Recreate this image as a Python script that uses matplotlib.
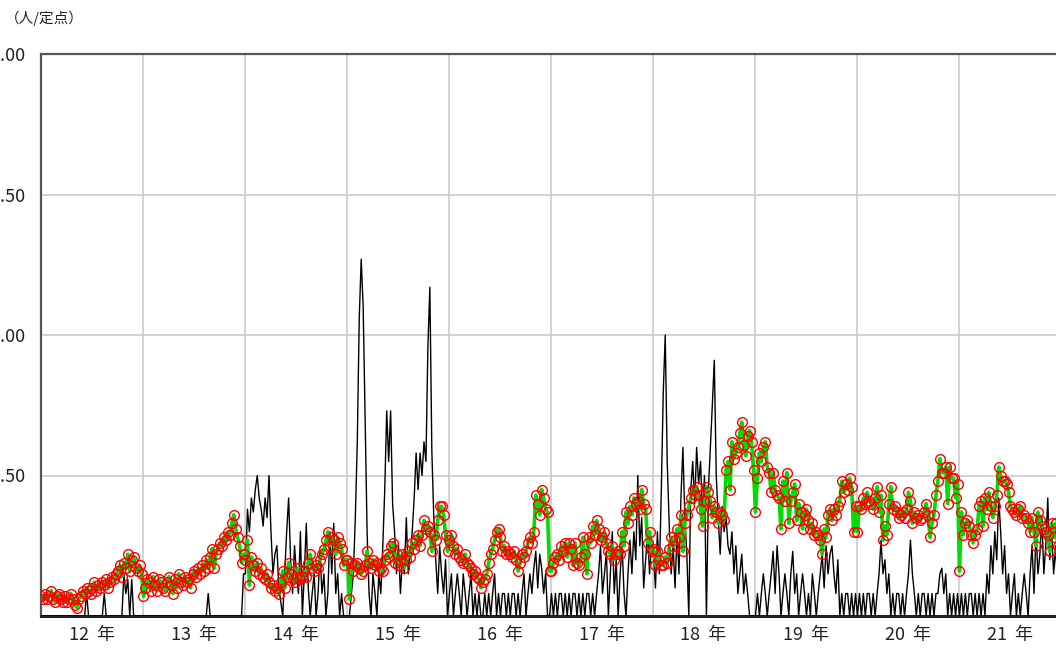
import numpy as np
import matplotlib.pyplot as plt

plt.rcParams['font.family'] = ['Noto Sans CJK JP', 'DejaVu Sans']

# 年ラベル (週 52 本ずつ)
years = ['12', '13', '14', '15', '16', '17', '18', '19', '20', '21']

# 赤丸 + 緑線 の系列 (人/定点)
avg_12 = [0.07, 0.06, 0.08, 0.06, 0.07, 0.09, 0.06, 0.05, 0.07, 0.08,
          0.06, 0.05, 0.07, 0.05, 0.06, 0.08, 0.06, 0.04, 0.03, 0.06,
          0.07, 0.09, 0.08, 0.10, 0.09, 0.08, 0.10, 0.12, 0.09, 0.11,
          0.10, 0.12, 0.11, 0.13, 0.10, 0.12, 0.14, 0.13, 0.15, 0.16,
          0.18, 0.14, 0.19, 0.17, 0.22, 0.16, 0.20, 0.21, 0.17, 0.16, 0.18, 0.15]
avg_13 = [0.07, 0.10, 0.13, 0.12, 0.09, 0.14, 0.11, 0.09, 0.13, 0.12,
          0.10, 0.09, 0.12, 0.14, 0.11, 0.08, 0.13, 0.10, 0.15, 0.12,
          0.11, 0.14, 0.12, 0.13, 0.10, 0.15, 0.16, 0.14, 0.17, 0.15,
          0.18, 0.16, 0.20, 0.17, 0.21, 0.24, 0.17, 0.22, 0.24, 0.26,
          0.25, 0.28, 0.27, 0.30, 0.29, 0.33, 0.36, 0.31, 0.28, 0.25, 0.19, 0.22]
avg_14 = [0.20, 0.27, 0.11, 0.21, 0.18, 0.16, 0.19, 0.15, 0.17, 0.14,
          0.13, 0.15, 0.12, 0.10, 0.11, 0.09, 0.10, 0.08, 0.12, 0.16,
          0.10, 0.14, 0.19, 0.15, 0.13, 0.12, 0.14, 0.17, 0.13, 0.14,
          0.16, 0.14, 0.19, 0.22, 0.17, 0.16, 0.18, 0.17, 0.20, 0.22,
          0.24, 0.27, 0.30, 0.25, 0.28, 0.27, 0.22, 0.28, 0.26, 0.24, 0.18, 0.20]
avg_15 = [0.20, 0.06, 0.19, 0.16, 0.18, 0.19, 0.17, 0.15, 0.16, 0.18,
          0.23, 0.19, 0.17, 0.20, 0.18, 0.19, 0.16, 0.17, 0.16, 0.20,
          0.22, 0.21, 0.25, 0.26, 0.19, 0.22, 0.18, 0.20, 0.22, 0.17,
          0.20, 0.23, 0.21, 0.26, 0.24, 0.27, 0.29, 0.25, 0.29, 0.34,
          0.31, 0.32, 0.30, 0.23, 0.29, 0.27, 0.34, 0.39, 0.39, 0.36, 0.29, 0.23]
avg_16 = [0.27, 0.29, 0.25, 0.22, 0.24, 0.21, 0.20, 0.19, 0.22, 0.19,
          0.18, 0.17, 0.15, 0.16, 0.14, 0.13, 0.10, 0.12, 0.13, 0.15,
          0.19, 0.22, 0.24, 0.27, 0.30, 0.31, 0.28, 0.23, 0.25, 0.22,
          0.23, 0.22, 0.21, 0.23, 0.20, 0.16, 0.19, 0.22, 0.21, 0.23,
          0.26, 0.28, 0.26, 0.30, 0.43, 0.40, 0.36, 0.45, 0.42, 0.38, 0.37, 0.16]
avg_17 = [0.16, 0.19, 0.21, 0.22, 0.20, 0.25, 0.23, 0.26, 0.21, 0.26,
          0.24, 0.18, 0.26, 0.19, 0.18, 0.21, 0.28, 0.22, 0.15, 0.28,
          0.26, 0.32, 0.29, 0.34, 0.31, 0.27, 0.28, 0.30, 0.26, 0.23,
          0.22, 0.25, 0.20, 0.22, 0.23, 0.22, 0.30, 0.25, 0.37, 0.33,
          0.39, 0.36, 0.42, 0.40, 0.41, 0.38, 0.45, 0.40, 0.38, 0.26, 0.30, 0.23]
avg_18 = [0.24, 0.18, 0.23, 0.20, 0.18, 0.18, 0.21, 0.19, 0.24, 0.28,
          0.25, 0.27, 0.31, 0.28, 0.36, 0.23, 0.33, 0.36, 0.39, 0.42,
          0.45, 0.43, 0.46, 0.43, 0.38, 0.32, 0.41, 0.46, 0.44, 0.41,
          0.35, 0.39, 0.37, 0.33, 0.37, 0.36, 0.34, 0.52, 0.55, 0.45,
          0.62, 0.56, 0.58, 0.60, 0.65, 0.69, 0.61, 0.57, 0.64, 0.66, 0.62, 0.52]
avg_19 = [0.37, 0.49, 0.58, 0.55, 0.60, 0.62, 0.53, 0.51, 0.44, 0.51,
          0.45, 0.43, 0.42, 0.31, 0.48, 0.41, 0.51, 0.33, 0.41, 0.44,
          0.47, 0.34, 0.40, 0.37, 0.31, 0.36, 0.38, 0.34, 0.31, 0.33,
          0.29, 0.30, 0.29, 0.27, 0.22, 0.31, 0.28, 0.36, 0.38, 0.34,
          0.38, 0.36, 0.39, 0.41, 0.48, 0.44, 0.47, 0.45, 0.49, 0.46, 0.30, 0.39]
avg_20 = [0.30, 0.39, 0.38, 0.42, 0.40, 0.44, 0.41, 0.40, 0.38, 0.42,
          0.46, 0.37, 0.43, 0.27, 0.32, 0.29, 0.40, 0.46, 0.38, 0.39,
          0.37, 0.35, 0.36, 0.37, 0.35, 0.38, 0.44, 0.41, 0.33, 0.37,
          0.35, 0.36, 0.34, 0.35, 0.37, 0.40, 0.36, 0.28, 0.33, 0.36,
          0.43, 0.48, 0.56, 0.51, 0.51, 0.53, 0.40, 0.53, 0.49, 0.49, 0.42, 0.47]
avg_21 = [0.16, 0.37, 0.29, 0.33, 0.34, 0.32, 0.29, 0.26, 0.29, 0.31,
          0.39, 0.41, 0.32, 0.42, 0.38, 0.44, 0.39, 0.35, 0.39, 0.43,
          0.53, 0.50, 0.48, 0.48, 0.47, 0.44, 0.39, 0.38, 0.37, 0.36,
          0.38, 0.39, 0.35, 0.36, 0.35, 0.33, 0.30, 0.35, 0.30, 0.25,
          0.37, 0.34, 0.32, 0.31, 0.30, 0.29, 0.23, 0.33, 0.28, 0.33, 0.25, 0.30]

# 黒線の系列 (人/定点)
cur_12 = [0, 0, 0, 0, 0, 0, 0, 0, 0, 0,
          0, 0, 0, 0, 0, 0, 0, 0, 0, 0,
          0, 0, 0, 0.08, 0, 0, 0, 0, 0, 0,
          0, 0, 0.08, 0, 0, 0, 0, 0, 0, 0,
          0, 0, 0.15, 0.08, 0.13, 0, 0.13, 0, 0, 0, 0, 0]
cur_13 = [0, 0, 0, 0, 0, 0, 0, 0, 0, 0,
          0, 0, 0, 0, 0, 0, 0, 0, 0, 0,
          0, 0, 0, 0, 0, 0, 0, 0, 0, 0,
          0, 0, 0, 0.08, 0, 0, 0, 0, 0, 0,
          0, 0, 0, 0, 0, 0, 0, 0, 0, 0, 0, 0.15]
cur_14 = [0.15, 0.38, 0.30, 0.42, 0.37, 0.45, 0.50, 0.42, 0.38, 0.32,
          0.42, 0.35, 0.50, 0.30, 0.15, 0.22, 0.25, 0.10, 0.05, 0,
          0.15, 0.30, 0.42, 0.20, 0.08, 0.25, 0.15, 0.08, 0.30, 0,
          0.15, 0.33, 0.10, 0, 0.08, 0.15, 0, 0.08, 0.23, 0.08,
          0.15, 0, 0.08, 0.30, 0.15, 0.33, 0.08, 0.15, 0, 0.08, 0, 0]
cur_15 = [0, 0, 0.08, 0.15, 0.35, 0.62, 1.06, 1.27, 1.10, 0.70,
          0.30, 0.08, 0, 0.15, 0.08, 0, 0.15, 0.08, 0.25, 0.45,
          0.73, 0.55, 0.73, 0.40, 0.30, 0.15, 0.25, 0.08, 0.20, 0.15,
          0.35, 0.15, 0.23, 0.30, 0.42, 0.58, 0.45, 0.58, 0.50, 0.62,
          0.55, 0.96, 1.17, 0.59, 0.35, 0.20, 0.08, 0.25, 0.15, 0.08, 0.20, 0]
cur_16 = [0.08, 0.15, 0, 0.08, 0.15, 0.08, 0, 0.15, 0.08, 0,
          0.08, 0.15, 0, 0.08, 0, 0.08, 0, 0, 0.08, 0,
          0.08, 0, 0.08, 0.15, 0, 0.08, 0, 0.08, 0.08, 0,
          0.08, 0, 0.08, 0.08, 0, 0.08, 0, 0.08, 0.15, 0,
          0.08, 0.15, 0.08, 0.17, 0.23, 0.10, 0.22, 0.17, 0.08, 0.15, 0, 0]
cur_17 = [0.08, 0, 0.08, 0, 0.08, 0.08, 0, 0.08, 0, 0.08,
          0, 0.08, 0.08, 0, 0.08, 0, 0.08, 0, 0.08, 0.08,
          0, 0.08, 0, 0.08, 0.15, 0.25, 0.08, 0.15, 0.23, 0,
          0.15, 0.30, 0.08, 0.20, 0, 0.15, 0.25, 0.08, 0, 0.15,
          0.27, 0.15, 0.30, 0.20, 0.50, 0.25, 0.35, 0.10, 0.20, 0.30, 0.15, 0.25]
cur_18 = [0.22, 0.10, 0.30, 0.15, 0.45, 0.80, 1.00, 0.55, 0.33, 0.15,
          0.25, 0.10, 0.30, 0.15, 0.42, 0.60, 0.35, 0.22, 0, 0.45,
          0.55, 0.40, 0.60, 0.47, 0.55, 0.35, 0.50, 0, 0.45, 0.60,
          0.75, 0.91, 0.50, 0.35, 0.22, 0.39, 0.30, 0.35, 0.25, 0.22,
          0.30, 0.15, 0.25, 0.08, 0.15, 0.22, 0.08, 0.15, 0.08, 0, 0, 0]
cur_19 = [0, 0.08, 0, 0.08, 0.15, 0.08, 0, 0.08, 0.15, 0.23,
          0.08, 0.25, 0.15, 0, 0.08, 0.15, 0.08, 0, 0.15, 0.23,
          0.08, 0.15, 0, 0.08, 0.15, 0.08, 0, 0.08, 0, 0.15,
          0.08, 0, 0.08, 0.15, 0.22, 0.10, 0.25, 0.15, 0.22, 0.25,
          0.15, 0.08, 0.20, 0, 0.08, 0, 0.08, 0.08, 0, 0.08, 0, 0.08]
cur_20 = [0, 0.08, 0, 0.08, 0, 0.08, 0.08, 0, 0.08, 0,
          0.08, 0.15, 0.27, 0.15, 0.20, 0.08, 0.15, 0, 0.08, 0,
          0.08, 0.08, 0, 0.08, 0, 0.08, 0.15, 0.27, 0.15, 0.08,
          0, 0.08, 0, 0.08, 0.08, 0, 0.08, 0, 0.08, 0,
          0.08, 0.08, 0.15, 0.17, 0.08, 0.15, 0, 0.08, 0, 0.08, 0, 0.08]
cur_21 = [0, 0.08, 0, 0.08, 0, 0.08, 0.08, 0, 0.08, 0,
          0.08, 0, 0.08, 0, 0.15, 0.08, 0.25, 0.15, 0.30, 0.20,
          0.42, 0.30, 0.15, 0.25, 0.08, 0.15, 0, 0.08, 0.15, 0,
          0.08, 0, 0.08, 0.15, 0.08, 0, 0.15, 0.25, 0.08, 0.30,
          0.15, 0.22, 0.35, 0.15, 0.25, 0.42, 0.20, 0.30, 0.15, 0.25, 0.10, 0.20]

avg = np.concatenate([avg_12, avg_13, avg_14, avg_15, avg_16,
                      avg_17, avg_18, avg_19, avg_20, avg_21])
cur = np.concatenate([cur_12, cur_13, cur_14, cur_15, cur_16,
                      cur_17, cur_18, cur_19, cur_20, cur_21])
weeks = np.arange(len(avg)) + 0.5

fig = plt.figure(figsize=(10.56, 6.5), dpi=100)
# 右端は画像の外まで伸ばす (元の図も右が切れている)
ax = fig.add_axes([40.5 / 1056, 34 / 650, 1020 / 1056, 562 / 650])

ax.plot(weeks, cur, color='black', lw=1.0, zorder=3)
ax.plot(weeks, avg, color='#00dd00', lw=2.6, zorder=4,
        marker='o', ms=7, mfc='none', mec='red', mew=1.0)

ax.set_xlim(0, 520)
ax.set_ylim(0, 2.0)

# 目盛ラベルは元図どおり左端で切れる
ax.set_yticks([0.5, 1.0, 1.5, 2.0])
ax.set_yticklabels(['0.50', '1.00', '1.50', '2.00'], fontsize=13, color='#222222')
ax.set_xticks(np.arange(26, 520, 52))
ax.set_xticklabels([y + '  年' for y in years], fontsize=13, color='#222222')
ax.set_xticks(np.arange(52, 520, 52), minor=True)
ax.tick_params(axis='y', length=0, pad=11)
ax.tick_params(axis='x', which='both', length=0, pad=7)

ax.grid(axis='y', which='major', color='#cccccc', lw=1.2)
ax.grid(axis='x', which='minor', color='#cccccc', lw=1.2)
ax.set_axisbelow(True)

for side in ['left', 'top']:
    ax.spines[side].set_color('#555555')
    ax.spines[side].set_linewidth(1.6)
ax.spines['bottom'].set_color('#222222')
ax.spines['bottom'].set_linewidth(2.2)
ax.spines['right'].set_visible(False)

fig.text(5 / 1056, 1 - 18 / 650, '（人/定点）', fontsize=10.5, va='center', color='#222222')

fig.savefig('out.png', dpi=100)
